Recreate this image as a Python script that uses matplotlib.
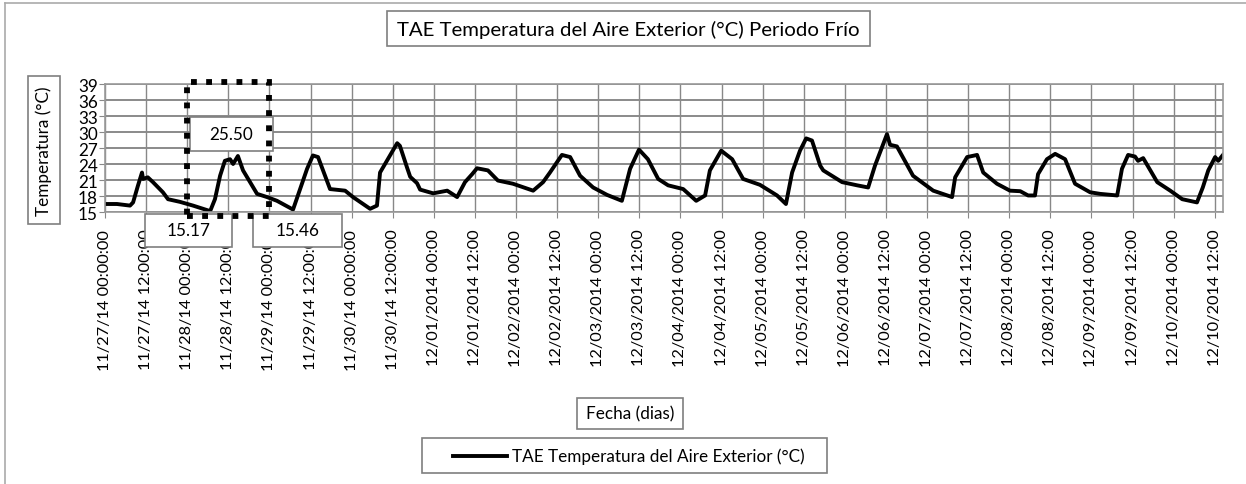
import numpy as np
import matplotlib.pyplot as plt
from matplotlib.patches import Rectangle

plt.rcParams['font.family'] = ['Lato', 'DejaVu Sans']

# hours since 11/27/14 00:00 and outdoor air temperature (°C)
hours = [0, 3.5, 7.3, 8.2, 9.6, 10.8, 11.1, 12.5, 14.0, 16.9, 18.4, 21.9, 25.7, 30.7,
         32.1, 33.6, 35.0, 36.5, 37.4, 38.8, 40.3, 44.4, 47.3, 50.2, 54.9, 59.0, 60.7,
         62.2, 65.7, 70.1, 72.4, 77.4, 79.4, 80.3, 85.3, 86.1, 88.2, 89.1, 91.1, 92.0,
         95.8, 99.9, 102.8, 105.1, 107.2, 108.6, 111.8, 114.7, 119.1, 125.0, 127.9,
         129.9, 133.4, 135.8, 138.7, 142.5, 146.6, 150.9, 153.3, 155.9, 158.5, 161.5,
         164.4, 168.8, 172.6, 175.2, 176.6, 179.9, 183.1, 186.3, 191.2, 196.2, 198.8,
         200.6, 202.9, 204.7, 206.4, 208.8, 209.7, 215.2, 219.6, 222.8, 224.8, 228.3,
         229.2, 231.2, 235.9, 241.8, 247.3, 248.2, 251.7, 254.6, 256.4, 260.4, 264.2,
         267.2, 269.5, 271.5, 272.4, 275.0, 277.4, 280.3, 283.2, 287.6, 290.5, 295.5,
         296.9, 298.7, 300.7, 301.6, 303.1, 307.2, 311.0, 314.5, 318.8, 320.5, 322.1,
         324.1, 325.0, 326.4]
temps = [16.5, 16.5, 16.2, 16.8, 19.9, 22.4, 21.2, 21.5, 20.6, 18.7, 17.4, 16.9, 16.2,
         15.17, 17.4, 21.8, 24.6, 24.9, 24.0, 25.5, 22.8, 18.4, 17.8, 17.1, 15.46, 23.1,
         25.6, 25.3, 19.3, 19.0, 17.8, 15.6, 16.2, 22.4, 27.9, 27.4, 23.3, 21.6, 20.4,
         19.2, 18.5, 19.0, 17.8, 20.6, 22.1, 23.2, 22.8, 20.9, 20.3, 19.0, 20.6, 22.4,
         25.7, 25.3, 21.8, 19.6, 18.2, 17.1, 23.1, 26.7, 24.9, 21.2, 20.0, 19.3, 17.1,
         18.1, 22.8, 26.5, 24.9, 21.2, 20.1, 18.1, 16.5, 22.4, 26.5, 28.8, 28.4, 23.7,
         22.8, 20.6, 20.0, 19.6, 23.7, 29.6, 27.6, 27.3, 21.8, 19.0, 17.8, 21.5, 25.3,
         25.7, 22.4, 20.3, 19.0, 18.9, 18.1, 18.1, 22.1, 24.9, 25.9, 24.9, 20.3, 18.7,
         18.4, 18.1, 23.1, 25.7, 25.4, 24.6, 25.1, 20.6, 19.0, 17.4, 16.8, 19.6, 22.8,
         25.3, 24.6, 25.7]

tick_labels = ['11/27/14 00:00:00', '11/27/14 12:00:00', '11/28/14 00:00:00', '11/28/14 12:00:00',
               '11/29/14 00:00:00', '11/29/14 12:00:00', '11/30/14 00:00:00', '11/30/14 12:00:00']
for d in range(1, 11):
    tick_labels += ['12/%02d/2014 00:00' % d, '12/%02d/2014 12:00' % d]
tick_hours = np.arange(len(tick_labels)) * 12

# highlighted day and its labels
day_start, day_end = 24, 48
label_max = 25.50
label_min1 = 15.17
label_min2 = 15.46

W, H = 1246, 485
fig = plt.figure(figsize=(W / 100, H / 100), dpi=100)
ax = fig.add_axes([105 / W, 1 - 213 / H, 1118 / W, 128 / H])

ax.plot(hours, temps, color='black', lw=2.8, solid_joinstyle='round',
        label='TAE Temperatura del Aire Exterior (°C)')
ax.set_xlim(0, 326.4)
ax.set_ylim(15, 39)
ax.set_yticks(np.arange(15, 40, 3))
ax.set_xticks(tick_hours)
ax.set_xticklabels(tick_labels, rotation=90, fontsize=11.8)
ax.tick_params(axis='y', labelsize=12.3, length=4, color='#888888', pad=1)
ax.tick_params(axis='x', length=4, color='#888888', pad=8)
ax.grid(True, axis='x', color='#888888', lw=1.0)
ax.grid(True, axis='y', color='#8a8a8a', lw=1.4)
ax.set_axisbelow(True)
for s in ax.spines.values():
    s.set_color('#999999')
    s.set_linewidth(1.2)

# dotted highlight box, drawn on top of the label boxes
fig.add_artist(Rectangle((day_start, 14.25), day_end - day_start, 39.4 - 14.25,
                         transform=ax.transData, fill=False, ls=(0, (1, 1.6)),
                         lw=4.2, ec='black', zorder=20))


def pxbox(x0, y0, x1, y1, text=None, rot=0, fs=12.3, ec='#7f7f7f'):
    r = Rectangle((x0, H - y1), x1 - x0, y1 - y0, transform=None, fc='white',
                  ec=ec, lw=1.2, zorder=10)
    fig.add_artist(r)
    if text is not None:
        fig.text((x0 + x1) / 2 / W, 1 - (y0 + y1) / 2 / H, text, rotation=rot,
                 ha='center', va='center', fontsize=fs, zorder=11)


# data labels
pxbox(190, 118, 273, 152, '%.2f' % label_max)
pxbox(145, 215, 232, 248, '%.2f' % label_min1)
pxbox(253, 215, 342, 248, '%.2f' % label_min2)

# title, axis titles, legend
pxbox(387, 12, 870, 47, 'TAE Temperatura del Aire Exterior (°C) Periodo Frío', fs=14.7)
pxbox(28, 77, 60, 225, 'Temperatura (°C)', rot=90, fs=12.3)
pxbox(577, 399, 683, 430, 'Fecha (dias)', fs=12.3)
pxbox(422, 439, 827, 474)
fig.add_artist(plt.Line2D([453 / W, 507 / W], [1 - 457 / H, 1 - 457 / H], color='black', lw=2.8, zorder=12))
fig.text(512 / W, 1 - 457 / H, 'TAE Temperatura del Aire Exterior (°C)', ha='left', va='center',
         fontsize=12.3, zorder=12)

# chart frame edges
fig.add_artist(plt.Line2D([5 / W, 5 / W], [0, 1 - 4 / H], color='#aaaaaa', lw=1.2))
fig.add_artist(plt.Line2D([5 / W, 1], [1 - 4 / H, 1 - 4 / H], color='#aaaaaa', lw=1.2))

fig.savefig('out.png', dpi=100)
